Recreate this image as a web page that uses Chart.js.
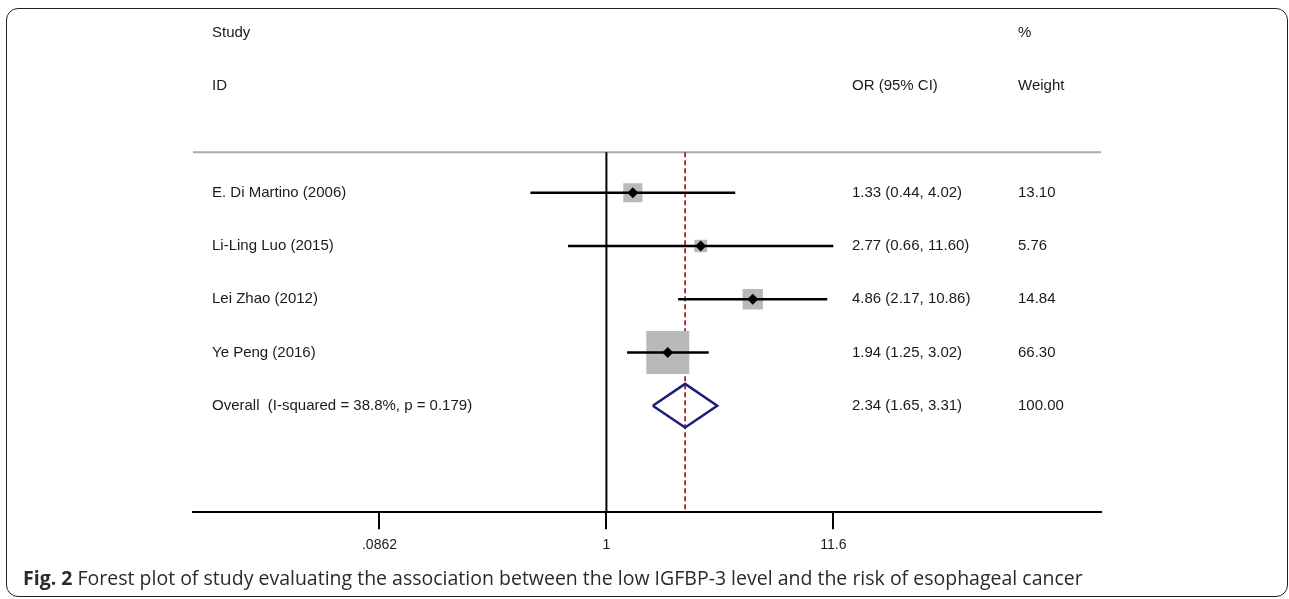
<!DOCTYPE html>
<html>
<head>
<meta charset="utf-8">
<script src="https://cdn.jsdelivr.net/npm/chart.js@4/dist/chart.umd.min.js"></script>
<style>
  body { margin: 0; background: #fff; }
  #wrap { position: relative; width: 1289px; height: 599px; overflow: hidden; }
  #frame {
    position: absolute; left: 6px; top: 8px; width: 1282px; height: 589px;
    box-sizing: border-box; border: 1.5px solid #222; border-radius: 12px;
  }
  #plot { position: absolute; left: 0; top: 0; width: 1289px; height: 599px; }
  #caption {
    position: absolute; left: 23px; top: 566px; white-space: nowrap;
    font-family: 'Open Sans', sans-serif; font-size: 19.5px; line-height: 24px; color: #2a2a2a;
  }
  #caption b { font-weight: 700; }
</style>
</head>
<body>
<div id="wrap">
  <div id="frame"></div>
  <div id="plot"><canvas id="forest"></canvas></div>
  <div id="caption"><b>Fig. 2</b> Forest plot of study evaluating the association between the low IGFBP-3 level and the risk of esophageal cancer</div>
</div>
<script>
// forest plot data
const studies = ['E. Di Martino (2006)', 'Li-Ling Luo (2015)', 'Lei Zhao (2012)', 'Ye Peng (2016)'];
const orValues = [1.33, 2.77, 4.86, 1.94];
const ciLower = [0.44, 0.66, 2.17, 1.25];
const ciUpper = [4.02, 11.60, 10.86, 3.02];
const weights = [13.10, 5.76, 14.84, 66.30];

const overallLabel = 'Overall  (I-squared = 38.8%, p = 0.179)';
const overallOR = 2.34;
const overallLower = 1.65;
const overallUpper = 3.31;
const overallWeight = 100.00;

const tickValues = [0.0862, 1, 11.6];
const tickLabels = ['.0862', '1', '11.6'];
const xMin = 0.0115;
const xMax = 209;

// row positions on the y scale (0 = top of plot body)
const rows = studies.map((s, i) => i + 1);
const overallRow = studies.length + 1;
const lineTop = 0.24;
const axisRow = 7;

Chart.defaults.font.family = "'Liberation Sans', Arial, sans-serif";
Chart.defaults.color = '#1a1a1a';

function fmt(v) { return v.toFixed(2); }

const datasets = [];

// divider under the header
datasets.push({
  data: [{ x: xMin, y: lineTop }, { x: xMax, y: lineTop }],
  showLine: true, borderColor: '#a9a9a9', borderWidth: 2, pointRadius: 0, order: 9
});
// line of no effect
datasets.push({
  data: [{ x: 1, y: lineTop }, { x: 1, y: axisRow }],
  showLine: true, borderColor: '#000', borderWidth: 2, pointRadius: 0, order: 8
});
// overall effect dashed line
datasets.push({
  data: [{ x: overallOR, y: lineTop }, { x: overallOR, y: axisRow }],
  showLine: true, borderColor: '#a8262c', borderWidth: 1.8, borderDash: [5, 3], pointRadius: 0, order: 7
});
// weight boxes
datasets.push({
  data: orValues.map((v, i) => ({ x: v, y: rows[i] })),
  pointStyle: 'rect',
  pointRadius: weights.map(w => 43 * Math.sqrt(w / 66.3) / Math.SQRT2),
  backgroundColor: '#b9b9b9', borderWidth: 0, order: 6
});
// confidence intervals
studies.forEach((s, i) => {
  datasets.push({
    data: [{ x: ciLower[i], y: rows[i] }, { x: ciUpper[i], y: rows[i] }],
    showLine: true, borderColor: '#000', borderWidth: 2.6, pointRadius: 0, order: 5
  });
});
// point estimates
datasets.push({
  data: orValues.map((v, i) => ({ x: v, y: rows[i] })),
  pointStyle: 'rectRot', pointRadius: 5.5, backgroundColor: '#000', borderWidth: 0, order: 4
});
// overall diamond
const dh = 0.41;
datasets.push({
  data: [
    { x: overallLower, y: overallRow },
    { x: overallOR, y: overallRow - dh },
    { x: overallUpper, y: overallRow },
    { x: overallOR, y: overallRow + dh },
    { x: overallLower, y: overallRow }
  ],
  showLine: true, borderColor: '#1b1f7c', borderWidth: 2.5, pointRadius: 0, order: 3
});

const tableText = {
  id: 'tableText',
  afterDatasetsDraw(chart) {
    const { ctx, scales: { y } } = chart;
    ctx.save();
    ctx.font = "15px 'Liberation Sans', Arial, sans-serif";
    ctx.fillStyle = '#1a1a1a';
    ctx.textBaseline = 'middle';
    ctx.textAlign = 'left';
    const colStudy = 212, colOR = 852, colW = 1018;
    ctx.fillText('Study', colStudy, y.getPixelForValue(-2));
    ctx.fillText('ID', colStudy, y.getPixelForValue(-1));
    ctx.fillText('OR (95% CI)', colOR, y.getPixelForValue(-1));
    ctx.fillText('%', colW, y.getPixelForValue(-2));
    ctx.fillText('Weight', colW, y.getPixelForValue(-1));
    studies.forEach((s, i) => {
      const py = y.getPixelForValue(rows[i]);
      ctx.fillText(s, colStudy, py);
      ctx.fillText(fmt(orValues[i]) + ' (' + fmt(ciLower[i]) + ', ' + fmt(ciUpper[i]) + ')', colOR, py);
      ctx.fillText(fmt(weights[i]), colW, py);
    });
    const oy = y.getPixelForValue(overallRow);
    ctx.fillText(overallLabel, colStudy, oy);
    ctx.fillText(fmt(overallOR) + ' (' + fmt(overallLower) + ', ' + fmt(overallUpper) + ')', colOR, oy);
    ctx.fillText(fmt(overallWeight), colW, oy);
    ctx.restore();
  }
};

new Chart(document.getElementById('forest'), {
  type: 'scatter',
  data: { datasets: datasets },
  options: {
    responsive: true,
    maintainAspectRatio: false,
    animation: false,
    layout: { autoPadding: false, padding: { left: 193, right: 188, top: 0, bottom: 37 } },
    plugins: { legend: { display: false }, tooltip: { enabled: false } },
    scales: {
      x: {
        type: 'logarithmic',
        min: xMin,
        max: xMax,
        afterBuildTicks: axis => { axis.ticks = tickValues.map(v => ({ value: v })); },
        ticks: {
          autoSkip: false, maxRotation: 0, padding: 8,
          font: { size: 14 }, color: '#1a1a1a',
          callback: (v, i) => tickLabels[i]
        },
        grid: { drawOnChartArea: false, drawTicks: true, tickLength: 17, color: '#000', lineWidth: 2 },
        border: { display: true, color: '#000', width: 2 }
      },
      y: {
        display: false,
        reverse: true,
        min: -2.62,
        max: axisRow
      }
    }
  },
  plugins: [tableText]
});
</script>
</body>
</html>
